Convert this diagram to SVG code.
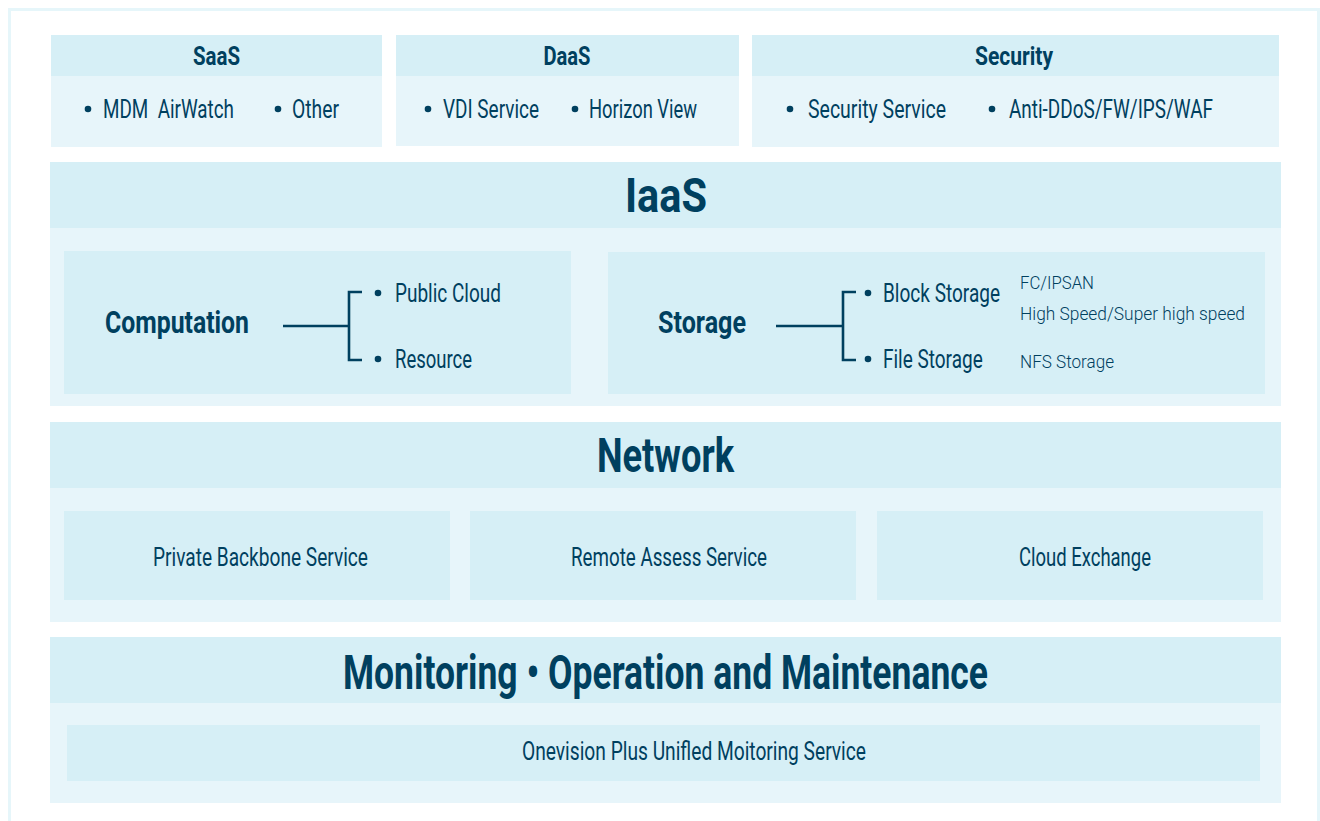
<svg xmlns="http://www.w3.org/2000/svg" width="1320" height="821" viewBox="0 0 1320 821">
<style>
.hd{fill:#d6eff6}
.bd{fill:#e7f5fa}
.in{fill:#d6eff6}
text{font-family:Roboto,"Liberation Sans",sans-serif;fill:#00405f;white-space:pre}
.t1{font-size:48px;font-weight:700}
.t2{font-size:26px;font-weight:700}
.t3{font-size:32px;font-weight:700}
.it{font-size:26px;font-weight:400}
.sm{font-size:18px;font-weight:300}
.dot{fill:#00405f}
.ln{stroke:#00405f;stroke-width:2.6;fill:none}
</style>
<rect x="0" y="0" width="1320" height="821" fill="#ffffff"/>
<rect x="9.5" y="9.5" width="1309" height="840" fill="none" stroke="#e6f6fa" stroke-width="3"/>

<g id="saas">
<rect class="bd" x="51" y="35" width="331" height="112"/>
<rect class="hd" x="51" y="35" width="331" height="41"/>
<text class="t2" x="216.5" y="65" text-anchor="middle" textLength="47" lengthAdjust="spacingAndGlyphs">SaaS</text>
<circle class="dot" cx="88" cy="109" r="3.3"/>
<text class="it" x="103" y="118" textLength="131" lengthAdjust="spacingAndGlyphs">MDM  AirWatch</text>
<circle class="dot" cx="278" cy="109" r="3.3"/>
<text class="it" x="292" y="118" textLength="47" lengthAdjust="spacingAndGlyphs">Other</text>
</g>

<g id="daas">
<rect class="bd" x="396" y="35" width="343" height="111"/>
<rect class="hd" x="396" y="35" width="343" height="41"/>
<text class="t2" x="567" y="65" text-anchor="middle" textLength="47" lengthAdjust="spacingAndGlyphs">DaaS</text>
<circle class="dot" cx="428" cy="109" r="3.3"/>
<text class="it" x="443" y="118" textLength="96" lengthAdjust="spacingAndGlyphs">VDI Service</text>
<circle class="dot" cx="575" cy="109" r="3.3"/>
<text class="it" x="589" y="118" textLength="108" lengthAdjust="spacingAndGlyphs">Horizon View</text>
</g>

<g id="security">
<rect class="bd" x="752" y="35" width="527" height="112"/>
<rect class="hd" x="752" y="35" width="527" height="41"/>
<text class="t2" x="1014" y="65" text-anchor="middle" textLength="78" lengthAdjust="spacingAndGlyphs">Security</text>
<circle class="dot" cx="790" cy="109" r="3.3"/>
<text class="it" x="808" y="118" textLength="138" lengthAdjust="spacingAndGlyphs">Security Service</text>
<circle class="dot" cx="992" cy="109" r="3.3"/>
<text class="it" x="1009" y="118" textLength="204" lengthAdjust="spacingAndGlyphs">Anti-DDoS/FW/IPS/WAF</text>
</g>

<g id="iaas">
<rect class="bd" x="50" y="162" width="1231" height="244"/>
<rect class="hd" x="50" y="162" width="1231" height="66"/>
<text class="t1" x="666" y="212" text-anchor="middle" textLength="82" lengthAdjust="spacingAndGlyphs">IaaS</text>
</g>

<g id="computation">
<rect class="in" x="64" y="251" width="507" height="143"/>
<text class="t3" x="105" y="333" textLength="144" lengthAdjust="spacingAndGlyphs">Computation</text>
<circle class="dot" cx="378" cy="293" r="3.3"/>
<text class="it" x="395" y="302" textLength="106" lengthAdjust="spacingAndGlyphs">Public Cloud</text>
<circle class="dot" cx="378" cy="359" r="3.3"/>
<text class="it" x="395" y="368" textLength="77" lengthAdjust="spacingAndGlyphs">Resource</text>
</g>

<g id="storage">
<rect class="in" x="608" y="252" width="657" height="142"/>
<text class="t3" x="658" y="333" textLength="88" lengthAdjust="spacingAndGlyphs">Storage</text>
<circle class="dot" cx="868" cy="293" r="3.3"/>
<text class="it" transform="translate(883 302) scale(0.75 1)" x="0" y="0" textLength="156" lengthAdjust="spacingAndGlyphs">Block Storage</text>
<circle class="dot" cx="868" cy="359" r="3.3"/>
<text class="it" transform="translate(883 368) scale(0.75 1)" x="0" y="0" textLength="133" lengthAdjust="spacingAndGlyphs">File Storage</text>
<text class="sm" x="1020" y="289" textLength="74" lengthAdjust="spacingAndGlyphs">FC/IPSAN</text>
<text class="sm" x="1020" y="320" textLength="225" lengthAdjust="spacingAndGlyphs">High Speed/Super high speed</text>
<text class="sm" x="1020" y="368" textLength="94" lengthAdjust="spacingAndGlyphs">NFS Storage</text>
</g>

<g id="network">
<rect class="bd" x="50" y="422" width="1231" height="200"/>
<rect class="hd" x="50" y="422" width="1231" height="66"/>
<text class="t1" x="665.5" y="472" text-anchor="middle" textLength="137" lengthAdjust="spacingAndGlyphs">Network</text>
</g>
<g id="private-backbone">
<rect class="in" x="64" y="511" width="386" height="89"/>
<text class="it" x="153" y="566" textLength="215" lengthAdjust="spacingAndGlyphs">Private Backbone Service</text>
</g>
<g id="remote-assess">
<rect class="in" x="470" y="511" width="386" height="89"/>
<text class="it" x="571" y="566" textLength="196" lengthAdjust="spacingAndGlyphs">Remote Assess Service</text>
</g>
<g id="cloud-exchange">
<rect class="in" x="877" y="511" width="386" height="89"/>
<text class="it" x="1019" y="566" textLength="132" lengthAdjust="spacingAndGlyphs">Cloud Exchange</text>
</g>

<g id="monitoring">
<rect class="bd" x="50" y="637" width="1231" height="166"/>
<rect class="hd" x="50" y="637" width="1231" height="66"/>
<text class="t1" x="343" y="689" textLength="645" lengthAdjust="spacingAndGlyphs">Monitoring • Operation and Maintenance</text>
</g>
<g id="onevision">
<rect class="in" x="67" y="725" width="1193" height="56"/>
<text class="it" x="522" y="760" style="font-size:25px" textLength="344" lengthAdjust="spacingAndGlyphs">Onevision Plus Unifled Moitoring Service</text>
</g>

<g id="connectors">
<path class="ln" d="M283 326H349M362 292H349V360H362"/>
<path class="ln" d="M776 326H843M856 292H843V360H856"/>
</g>
</svg>
